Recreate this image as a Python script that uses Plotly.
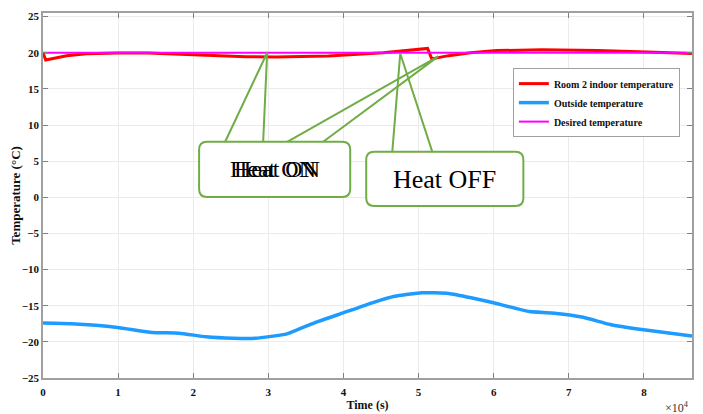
import plotly.graph_objects as go

# ---------------- data ----------------
room_t = [0, 360, 3150, 5800, 10000, 14000, 20000, 27000, 31000, 34000, 38000,
          45300, 51200, 51750, 54000, 56900, 60400, 66400, 73800, 80400, 86400]
room_v = [20.0, 19.0, 19.58, 19.86, 19.98, 19.95, 19.72, 19.45, 19.4, 19.42, 19.55,
          20.0, 20.6, 19.15, 19.6, 20.0, 20.3, 20.4, 20.3, 20.1, 19.9]

out_t = [0, 3770, 9925, 14530, 18120, 21700, 25290, 28280, 32470, 36050, 39940,
         43830, 46820, 50400, 54000, 57000, 59970, 64750, 67740, 71930, 75510,
         79700, 86400]
out_v = [-17.4, -17.5, -18.0, -18.7, -18.8, -19.3, -19.5, -19.5, -18.9, -17.4, -16.0,
         -14.6, -13.7, -13.2, -13.3, -13.9, -14.6, -15.8, -16.0, -16.6, -17.6,
         -18.3, -19.2]

des_t = [0, 86400]
des_v = [20, 20]

series_names = ["Room 2 indoor temperature", "Outside temperature", "Desired temperature"]

x_tickvals = [0, 10000, 20000, 30000, 40000, 50000, 60000, 70000, 80000]
x_ticktext = ["0", "1", "2", "3", "4", "5", "6", "7", "8"]
y_tickvals = [-25, -20, -15, -10, -5, 0, 5, 10, 15, 20, 25]

# callouts (data coordinates): box [t0, t1, v_bottom, v_top], tails [(base_a, base_b, tip_t, tip_v)]
callout_on_box = [20780, 40900, 0.04, 7.68]
callout_on_tails = [(24250, 29310, 29840, 20.0), (32510, 37300, 52620, 19.5)]
callout_off_box = [43030, 63950, -1.2, 6.29]
callout_off_tails = [(46500, 51830, 47560, 19.9)]

SERIF = "Liberation Serif"
GREEN = "#70AD47"

fig = go.Figure()
fig.add_trace(go.Scatter(x=room_t, y=room_v, mode="lines", name=series_names[0],
                         line=dict(color="#FF0000", width=3)))
fig.add_trace(go.Scatter(x=out_t, y=out_v, mode="lines", name=series_names[1],
                         line=dict(color="#1E9BFF", width=3.5, shape="spline", smoothing=0.4)))
fig.add_trace(go.Scatter(x=des_t, y=des_v, mode="lines", name=series_names[2],
                         line=dict(color="#FF00FF", width=2)))

shapes = []
rx = 1066.0
ry = 1.11


def tails(box, tl):
    for a, b, tt, tv in tl:
        top = box[3]
        shapes.append(dict(type="path", xref="x", yref="y", layer="above",
                           path=f"M {a},{top} L {tt},{tv} L {b},{top}",
                           line=dict(color=GREEN, width=2)))


def rbox(box):
    x0, x1, y0, y1 = box
    p = (f"M {x0+rx},{y1} L {x1-rx},{y1} Q {x1},{y1} {x1},{y1-ry} "
         f"L {x1},{y0+ry} Q {x1},{y0} {x1-rx},{y0} L {x0+rx},{y0} "
         f"Q {x0},{y0} {x0},{y0+ry} L {x0},{y1-ry} Q {x0},{y1} {x0+rx},{y1} Z")
    shapes.append(dict(type="path", xref="x", yref="y", layer="above", path=p,
                       fillcolor="white", line=dict(color=GREEN, width=2)))


tails(callout_on_box, callout_on_tails)
tails(callout_off_box, callout_off_tails)
rbox(callout_on_box)
rbox(callout_off_box)

annotations = []
on_cx = (callout_on_box[0] + callout_on_box[1]) / 2
on_cy = (callout_on_box[2] + callout_on_box[3]) / 2
off_cx = (callout_off_box[0] + callout_off_box[1]) / 2
off_cy = (callout_off_box[2] + callout_off_box[3]) / 2
for dx in (-2, 2):
    annotations.append(dict(x=on_cx, y=on_cy, xref="x", yref="y", text="Heat ON",
                            showarrow=False, xshift=dx,
                            font=dict(family=SERIF, size=24, color="black")))
annotations.append(dict(x=off_cx, y=off_cy, xref="x", yref="y", text="Heat OFF",
                        showarrow=False, yshift=-1,
                        font=dict(family=SERIF, size=26, color="black")))
annotations.append(dict(x=1.0, y=0, xref="paper", yref="paper", text="×10<sup>4</sup>",
                        showarrow=False, xanchor="right", yanchor="middle", yshift=-29, xshift=-1,
                        font=dict(family=SERIF, size=12, color="#333")))

axis_common = dict(showgrid=True, gridcolor="#EBEBEB", gridwidth=1, zeroline=False,
                   showline=True, linecolor="#A0A0A0", linewidth=1.5, mirror="ticks",
                   ticks="inside", ticklen=5, tickcolor="#808080", automargin=False,
                   tickfont=dict(family=SERIF, size=11, color="#111", weight="bold"))

fig.update_layout(
    width=703, height=414,
    margin=dict(l=35, r=19, t=5, b=44),
    plot_bgcolor="white", paper_bgcolor="white",
    shapes=shapes, annotations=annotations,
    xaxis=dict(range=[0, 86400], tickvals=x_tickvals, ticktext=x_ticktext,
               ticklabelstandoff=3,
               title=dict(text="Time (s)", standoff=2,
                          font=dict(family=SERIF, size=12, color="#111", weight="bold")),
               **axis_common),
    yaxis=dict(range=[-25, 25.5], tickvals=y_tickvals,
               title=dict(text="Temperature (°C)", standoff=2,
                          font=dict(family=SERIF, size=13, color="#111", weight="bold")),
               **axis_common),
    legend=dict(x=0.724, y=0.849, xanchor="left", yanchor="top",
                bgcolor="white", bordercolor="#A0A0A0", borderwidth=1,
                font=dict(family=SERIF, size=10, color="#111", weight="bold"),
                tracegroupgap=0, itemwidth=30),
    showlegend=True,
)

fig.write_html("out.html")
